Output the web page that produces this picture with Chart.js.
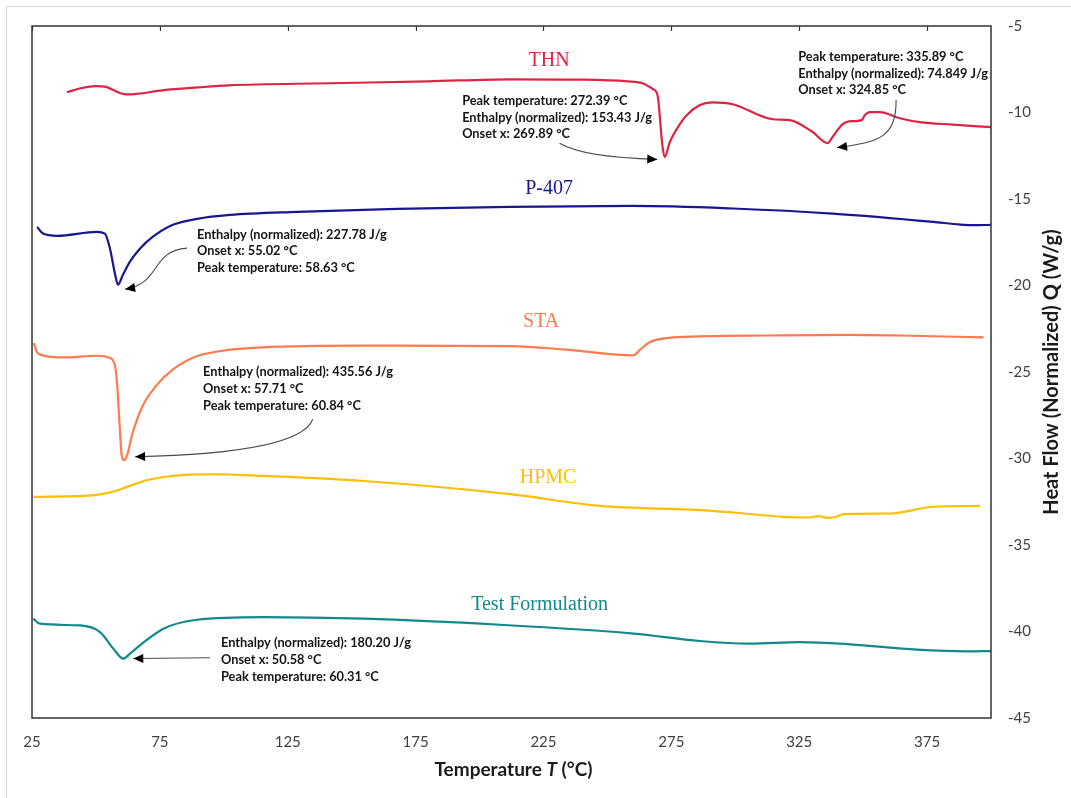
<!DOCTYPE html>
<html>
<head>
<meta charset="utf-8">
<title>DSC thermograms</title>
<script src="https://cdn.jsdelivr.net/npm/chart.js@4/dist/chart.umd.min.js"></script>
<style>
  html, body { margin: 0; padding: 0; background: #ffffff; }
  canvas { display: block; }
</style>
</head>
<body>
<canvas id="dsc" width="1071" height="798"></canvas>
<script>
// Heat flow (normalized, W/g) against temperature (°C) for each sample.
const xTicks = [25, 75, 125, 175, 225, 275, 325, 375];

const thnT = [38.7, 44, 50, 54, 57, 60, 62, 66, 76, 90, 102, 141, 180, 212, 240, 258, 264, 267.7, 269.6, 271.5, 272.4, 274.4, 277.1, 281, 286, 291, 299, 314.6, 321.3, 330, 336.2, 338, 342, 346, 349.5, 350.6, 352.5, 356.5, 364.3, 372.2, 385, 400];
const thnQ = [-8.83, -8.6, -8.48, -8.52, -8.72, -8.9, -8.95, -8.92, -8.72, -8.55, -8.43, -8.31, -8.2, -8.08, -8.1, -8.2, -8.32, -8.64, -9.0, -11.9, -12.58, -11.71, -10.96, -10.16, -9.58, -9.41, -9.52, -10.39, -10.44, -11.1, -11.77, -11.42, -10.67, -10.5, -10.44, -10.16, -9.98, -9.98, -10.33, -10.56, -10.7, -10.85];

const p407T = [27, 29.3, 34.8, 50.4, 53.5, 55.5, 57.5, 58.6, 60.6, 63.3, 67.2, 72.3, 80.1, 89.5, 102.4, 128.6, 167.7, 211.9, 260, 299, 338, 377.4, 388, 395, 400];
const p407Q = [-16.61, -17.0, -17.13, -16.9, -17.0, -17.87, -19.37, -19.95, -19.37, -18.62, -17.87, -17.18, -16.49, -16.15, -15.92, -15.74, -15.57, -15.46, -15.4, -15.55, -15.84, -16.32, -16.48, -16.51, -16.5];

const staT = [25.8, 26.8, 29.3, 37.1, 50.4, 55.5, 57.5, 58.4, 59.4, 60.1, 61, 62.3, 64.2, 68.2, 73.4, 80, 89.1, 99.5, 115.2, 154.6, 212, 234.1, 260.2, 262.8, 266.7, 273.2, 286.2, 312.3, 344.9, 364.5, 397.1];
const staQ = [-23.33, -23.81, -24.04, -24.16, -24.06, -24.19, -24.67, -25.92, -28.42, -29.86, -30.1, -29.76, -28.6, -26.98, -25.82, -24.86, -24.1, -23.77, -23.58, -23.48, -23.5, -23.71, -24.04, -23.71, -23.27, -23.04, -22.94, -22.89, -22.85, -22.89, -23.0];

const hpmcT = [25.5, 50.3, 56.8, 63.3, 69.8, 76.4, 86.8, 95.9, 115.5, 154.6, 212, 247.1, 286.2, 299.1, 318.7, 329.1, 332.4, 336.3, 339.6, 342.2, 360.4, 377.4, 395.6];
const hpmcQ = [-32.22, -32.1, -31.91, -31.58, -31.26, -31.07, -30.93, -30.91, -31.01, -31.3, -32.06, -32.74, -32.98, -33.12, -33.37, -33.41, -33.33, -33.43, -33.37, -33.22, -33.18, -32.79, -32.74];

const testT = [25.5, 28.1, 43.8, 51.6, 56.8, 60.7, 63.3, 67.2, 76.4, 89.4, 115.5, 154.6, 208, 260.2, 286.2, 305.8, 325.3, 344.9, 371, 390.6, 400];
const testQ = [-39.26, -39.55, -39.65, -40.03, -40.99, -41.57, -41.28, -40.8, -39.84, -39.32, -39.17, -39.26, -39.61, -40.12, -40.55, -40.7, -40.61, -40.74, -41.05, -41.15, -41.13];

const seriesNames = ['THN', 'P-407', 'STA', 'HPMC', 'Test Formulation'];
const seriesColors = ['#de2442', '#17178f', '#ff7b4f', '#ffbf00', '#12898a'];

// Peak analysis readouts
const thnPeak1Notes = ['Peak temperature: 272.39 °C', 'Enthalpy (normalized): 153.43 J/g', 'Onset x: 269.89 °C'];
const thnPeak2Notes = ['Peak temperature: 335.89 °C', 'Enthalpy (normalized): 74.849 J/g', 'Onset x: 324.85 °C'];
const p407Notes = ['Enthalpy (normalized): 227.78 J/g', 'Onset x: 55.02 °C', 'Peak temperature: 58.63 °C'];
const staNotes = ['Enthalpy (normalized): 435.56 J/g', 'Onset x: 57.71 °C', 'Peak temperature: 60.84 °C'];
const testNotes = ['Enthalpy (normalized): 180.20 J/g', 'Onset x: 50.58 °C', 'Peak temperature: 60.31 °C'];

const xTitle = ['Temperature ', 'T', ' (°C)'];
const yTitle = 'Heat Flow (Normalized) Q (W/g)';

function pairs(t, q) { return t.map((v, i) => ({ x: v, y: q[i] })); }
const curves = [pairs(thnT, thnQ), pairs(p407T, p407Q), pairs(staT, staQ), pairs(hpmcT, hpmcQ), pairs(testT, testQ)];

// Where each name, readout and pointer sits, in axis units
const nameSpots = [[227.2, -7.02], [227.2, -14.39], [224.1, -22.12], [226.8, -31.11], [223.5, -38.48]];
const noteBlocks = [
  { lines: thnPeak1Notes, at: [193.2, -9.32] },
  { lines: thnPeak2Notes, at: [324.6, -6.79] },
  { lines: p407Notes, at: [89.5, -17.05] },
  { lines: staNotes, at: [91.9, -25.0] },
  { lines: testNotes, at: [98.9, -40.68] }
];
const pointers = [
  [[231.3, -11.78], [240.5, -12.59], [269.5, -12.71]],
  [[362.9, -9.28], [362.9, -11.42], [356.6, -11.71], [339.8, -12.03]],
  [[85.6, -17.84], [71.1, -18.02], [75.8, -19.86], [61.4, -20.21]],
  [[134.8, -27.73], [129.7, -29.69], [65.3, -29.9]],
  [[94.6, -41.52], [64.6, -41.56]]
];

const decor = {
  id: 'decor',
  beforeDraw(chart) {
    const ctx = chart.ctx;
    ctx.save();
    ctx.strokeStyle = '#d4d4d4';
    ctx.lineWidth = 1;
    ctx.strokeRect(6.5, 6.5, chart.width + 20, chart.height + 20);
    ctx.restore();
  },
  afterDatasetsDraw(chart) {
    const ctx = chart.ctx;
    const xs = chart.scales.x, ys = chart.scales.y;
    const P = (p) => [xs.getPixelForValue(p[0]), ys.getPixelForValue(p[1])];
    const a = chart.chartArea;
    ctx.save();

    // plot frame and inward top ticks
    ctx.strokeStyle = '#333333';
    ctx.lineWidth = 1.5;
    ctx.strokeRect(a.left, a.top, a.right - a.left, a.bottom - a.top);
    ctx.lineWidth = 1.2;
    ctx.beginPath();
    xTicks.forEach(v => {
      const x = Math.round(xs.getPixelForValue(v)) + 0.5;
      ctx.moveTo(x, a.top);
      ctx.lineTo(x, a.top + 5);
    });
    ctx.stroke();

    // sample names
    ctx.font = '20px "Liberation Serif", "Times New Roman", serif';
    ctx.textAlign = 'center';
    ctx.textBaseline = 'middle';
    seriesNames.forEach((n, i) => {
      const [x, y] = P(nameSpots[i]);
      ctx.fillStyle = seriesColors[i];
      ctx.fillText(n, x, y);
    });

    // readouts
    ctx.font = 'bold 12.8px Lato, sans-serif';
    ctx.textAlign = 'left';
    ctx.fillStyle = '#141414';
    noteBlocks.forEach(b => {
      const [x, y] = P(b.at);
      b.lines.forEach((s, k) => ctx.fillText(s, x, y + k * 16.7));
    });

    // pointers
    pointers.forEach(pts => {
      const q = pts.map(P);
      ctx.strokeStyle = '#4a4a4a';
      ctx.lineWidth = 1.1;
      ctx.beginPath();
      ctx.moveTo(q[0][0], q[0][1]);
      if (q.length === 2) ctx.lineTo(q[1][0], q[1][1]);
      else if (q.length === 3) ctx.quadraticCurveTo(q[1][0], q[1][1], q[2][0], q[2][1]);
      else ctx.bezierCurveTo(q[1][0], q[1][1], q[2][0], q[2][1], q[3][0], q[3][1]);
      ctx.stroke();
      const tip = q[q.length - 1], prev = q[q.length - 2];
      const ang = Math.atan2(tip[1] - prev[1], tip[0] - prev[0]);
      const L = 10, W = 4.5;
      ctx.fillStyle = '#000000';
      ctx.beginPath();
      ctx.moveTo(tip[0], tip[1]);
      ctx.lineTo(tip[0] - L * Math.cos(ang) + W * Math.sin(ang), tip[1] - L * Math.sin(ang) - W * Math.cos(ang));
      ctx.lineTo(tip[0] - L * Math.cos(ang) - W * Math.sin(ang), tip[1] - L * Math.sin(ang) + W * Math.cos(ang));
      ctx.closePath();
      ctx.fill();
    });

    // axis titles
    ctx.fillStyle = '#1a1a1a';
    ctx.textBaseline = 'middle';
    const fonts = ['bold 19px Lato, sans-serif', 'italic bold 19px Lato, sans-serif', 'bold 19px Lato, sans-serif'];
    const widths = xTitle.map((s, i) => { ctx.font = fonts[i]; return ctx.measureText(s).width; });
    const total = widths.reduce((p, c) => p + c, 0);
    let cx = (a.left + a.right) / 2 - total / 2 + 2;
    ctx.textAlign = 'left';
    xTitle.forEach((s, i) => { ctx.font = fonts[i]; ctx.fillText(s, cx, 770); cx += widths[i]; });

    ctx.translate(1052, (a.top + a.bottom) / 2);
    ctx.rotate(-Math.PI / 2);
    ctx.textAlign = 'center';
    ctx.font = 'bold 20px Lato, sans-serif';
    ctx.fillText(yTitle, 0, 0);
    ctx.restore();
  }
};

new Chart(document.getElementById('dsc'), {
  type: 'line',
  data: {
    datasets: curves.map((d, i) => ({
      label: seriesNames[i],
      data: d,
      borderColor: seriesColors[i],
      borderWidth: 2.2,
      pointRadius: 0,
      fill: false,
      cubicInterpolationMode: 'monotone'
    }))
  },
  options: {
    responsive: false,
    animation: false,
    events: [],
    layout: { padding: { left: 32, top: 24, right: 0, bottom: 0 } },
    plugins: { legend: { display: false }, tooltip: { enabled: false } },
    scales: {
      x: {
        type: 'linear',
        position: 'bottom',
        min: 25,
        max: 400,
        afterBuildTicks: (s) => { s.ticks = xTicks.map(v => ({ value: v })); },
        afterFit: (s) => { s.height = 80; },
        grid: { display: false, drawTicks: false },
        border: { display: false },
        ticks: { padding: 15, color: '#404040', font: { family: 'Lato', size: 15 }, maxRotation: 0, autoSkip: false }
      },
      y: {
        type: 'linear',
        position: 'right',
        min: -45,
        max: -5,
        afterFit: (s) => { s.width = 80; },
        grid: { display: false, drawTicks: false },
        border: { display: false },
        ticks: { stepSize: 5, padding: 17, color: '#404040', font: { family: 'Lato', size: 15 } }
      }
    }
  },
  plugins: [decor]
});
</script>
</body>
</html>
